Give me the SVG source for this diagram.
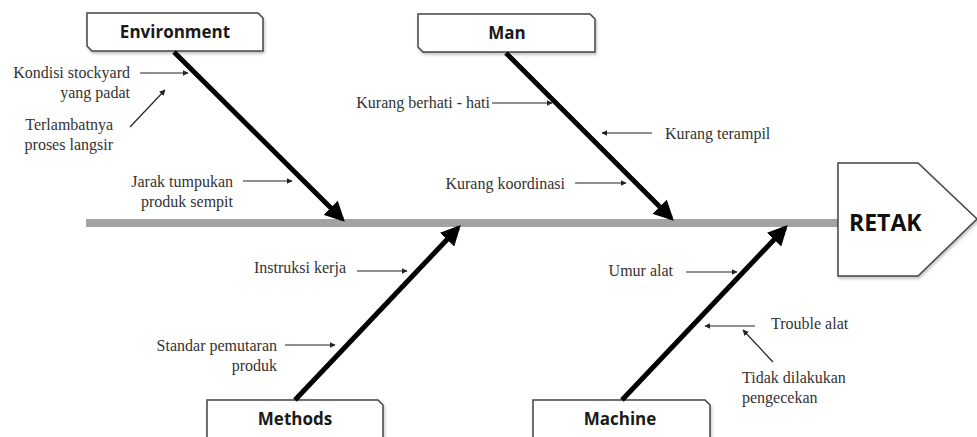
<svg xmlns="http://www.w3.org/2000/svg" width="977" height="437" viewBox="0 0 977 437">
<style>
.box{fill:#fff;stroke:#444;stroke-width:1.5}
.bl{font-family:"Open Sans","Liberation Sans",sans-serif;font-weight:bold;font-size:17px;fill:#1a1a1a;text-anchor:middle}
.rt{font-family:"Open Sans","Liberation Sans",sans-serif;font-weight:bold;font-size:23px;fill:#111}
.t{font-family:"Liberation Serif","Times New Roman",serif;font-size:16px;fill:#333}
.r{text-anchor:end}
.bone{stroke:#000;stroke-width:5;fill:none;marker-end:url(#big)}
.sm{stroke:#222;stroke-width:1.2;fill:none;marker-end:url(#small)}
</style>
<defs>
<marker id="big" viewBox="0 0 10 10" refX="8" refY="5" markerWidth="4" markerHeight="4" orient="auto" markerUnits="strokeWidth"><path d="M0,0 L10,5 L0,10 z" fill="#000"/></marker>
<marker id="small" viewBox="0 0 10 10" refX="9" refY="5" markerWidth="6" markerHeight="6" orient="auto" markerUnits="userSpaceOnUse"><path d="M0,0 L10,5 L0,10 z" fill="#222"/></marker>
<filter id="sh" x="-10%" y="-10%" width="130%" height="140%"><feDropShadow dx="1" dy="2" stdDeviation="1.5" flood-color="#000" flood-opacity="0.25"/></filter>
</defs>

<g id="spine"><line x1="86" y1="223" x2="838" y2="223" stroke="#a3a3a3" stroke-width="8"/></g>

<g id="retak">
<path class="box" filter="url(#sh)" d="M838,163 L918,163 L977,219 L918,276 L838,276 Z"/>
<text class="rt" x="849" y="231">RETAK</text>
</g>

<g id="environment">
<path class="box" filter="url(#sh)" d="M87,13 L258,13 L263,18 L263,51 L92,51 L87,46 Z"/>
<text class="bl" x="175" y="38">Environment</text>
</g>
<g id="man">
<path class="box" filter="url(#sh)" d="M418,14 L590,14 L595,19 L595,52 L423,52 L418,47 Z"/>
<text class="bl" x="507" y="39">Man</text>
</g>
<g id="methods">
<path class="box" filter="url(#sh)" d="M207,400 L378,400 L383,405 L383,442 L207,442 Z"/>
<text class="bl" x="295" y="425">Methods</text>
</g>
<g id="machine">
<path class="box" filter="url(#sh)" d="M533,400 L705,400 L710,405 L710,442 L533,442 Z"/>
<text class="bl" x="620" y="425">Machine</text>
</g>

<g id="connectors">
<line class="bone" x1="174" y1="52" x2="342" y2="219"/>
<line class="bone" x1="506" y1="53" x2="671" y2="218"/>
<line class="bone" x1="295" y1="400" x2="458" y2="228"/>
<line class="bone" x1="622" y1="400" x2="785" y2="228"/>

<line class="sm" x1="140" y1="73" x2="188" y2="73"/>
<line class="sm" x1="130" y1="127" x2="165" y2="90"/>
<line class="sm" x1="243" y1="181" x2="292" y2="181"/>
<line class="sm" x1="492" y1="103" x2="552" y2="103"/>
<line class="sm" x1="652" y1="133" x2="602" y2="133"/>
<line class="sm" x1="575" y1="183" x2="626" y2="183"/>
<line class="sm" x1="357" y1="271" x2="407" y2="271"/>
<line class="sm" x1="285" y1="345" x2="335" y2="345"/>
<line class="sm" x1="686" y1="272" x2="737" y2="272"/>
<line class="sm" x1="755" y1="326" x2="705" y2="326"/>
<line class="sm" x1="773" y1="362" x2="743" y2="330"/>
</g>

<g id="labels">
<text class="t r" x="130" y="78">Kondisi stockyard</text>
<text class="t r" x="130" y="98">yang padat</text>
<text class="t r" x="113" y="130">Terlambatnya</text>
<text class="t r" x="113" y="150">proses langsir</text>
<text class="t r" x="233" y="187">Jarak tumpukan</text>
<text class="t r" x="233" y="207">produk sempit</text>
<text class="t r" x="490" y="108">Kurang berhati - hati</text>
<text class="t" x="665" y="139">Kurang terampil</text>
<text class="t r" x="565" y="189">Kurang koordinasi</text>
<text class="t r" x="346" y="273">Instruksi kerja</text>
<text class="t r" x="277" y="351">Standar pemutaran</text>
<text class="t r" x="277" y="371">produk</text>
<text class="t r" x="673" y="276">Umur alat</text>
<text class="t" x="771" y="329">Trouble alat</text>
<text class="t" x="742" y="383">Tidak dilakukan</text>
<text class="t" x="742" y="403">pengecekan</text>
</g>
</svg>
